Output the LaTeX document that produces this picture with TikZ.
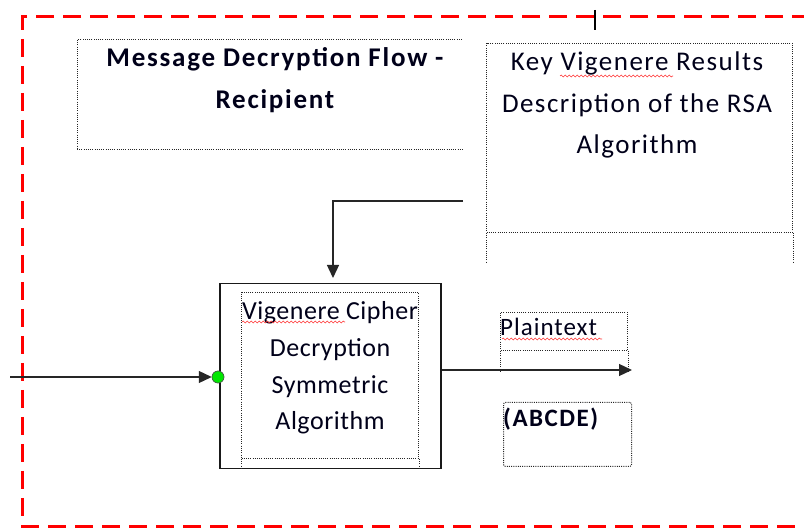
\documentclass[tikz,border=0pt]{standalone}
\usepackage{fontspec}
\setmainfont{Carlito}
\usetikzlibrary{arrows.meta,decorations.pathmorphing}

\begin{document}
\begin{tikzpicture}[x=1pt,y=-1pt,
  dotbox/.style={draw=black!85, line width=1pt, dash pattern=on 1pt off 1.2pt},
  frame/.style={draw=red, line width=3pt, dash pattern=on 18pt off 9pt},
  label/.style={inner sep=0pt, align=center, text=black!90!blue},
  flow/.style={draw=black!85, line width=1.3pt, -{Triangle[length=13pt,width=12pt]}},
  spell/.style={draw=red!80, line width=0.6pt, decorate,
    decoration={snake, segment length=4pt, amplitude=0.9pt}}]
\useasboundingbox (0,0) rectangle (804,529);

% outer red dashed frame (open on the right)
\draw[frame] (810,17) -- (22,17) -- (22,526) -- (810,526);

% text cursor
\draw[line width=1.2pt] (595,10) -- (595,30);

% title box, open on the right
\coordinate (tnw) at (77,40);
\coordinate (tsw) at (77,150);
\coordinate (tne) at (462,40);
\coordinate (tse) at (463,150);
\draw[dotbox] (tne) -- (tnw) -- (tsw) -- (tse);
\node[label, font=\fontsize{27}{42}\selectfont\bfseries\addfontfeature{LetterSpace=6.5}] (title) at (275,80)
  {Message Decryption Flow -\\Recipient};

% key box with its lower band
\node[dotbox, minimum width=306pt, minimum height=189pt, anchor=north west] (key) at (486,43) {};
\draw[dotbox] (key.south west) -- ++(0,30);
\draw[dotbox] (key.south east) -- ++(0,30);
\node[label, font=\fontsize{27}{41.5}\selectfont\addfontfeature{LetterSpace=5.5}] (keytext) at (637,105)
  {Key Vigenere Results\\Description of the RSA\\Algorithm};
\draw[spell] (560,76) -- (673,76);

% Vigenere decryption process
\node[draw=black!90, line width=1.5pt, minimum width=221pt, minimum height=185pt,
  anchor=north west] (proc) at (219,283) {};
\node[dotbox, minimum width=177pt, minimum height=166pt, anchor=north west] (inner) at (241,292) {};
\draw[dotbox] (inner.south west) -- ++(0,10);
\draw[dotbox] (inner.south east) -- ++(0,10);
\node[label, font=\fontsize{26}{36.7}\selectfont\addfontfeature{LetterSpace=2}] (proctext) at (330,368)
  {Vigenere Cipher\\Decryption\\Symmetric\\Algorithm};
\draw[spell] (242,322) -- (345,322);

% key feeds the process from above
\coordinate (keyout) at (463,201);
\draw[flow, shorten >=5pt] (keyout) -| (proc.north -| 333,0);

% ciphertext input with its connection point
\coordinate (inp) at (10,377);
\node[circle, draw=black!70, line width=0.5pt, fill={rgb,255:red,0;green,230;blue,0},
  minimum size=12pt, inner sep=0pt] (port) at (218,377) {};
\draw[flow] (inp) -- (port.west);
\node[circle, draw=black!70, line width=0.5pt, fill={rgb,255:red,0;green,230;blue,0},
  minimum size=12pt, inner sep=0pt] at (port) {};

% plaintext output
\coordinate (outtip) at (632,370);
\draw[flow] (proc.east |- outtip) -- (outtip);
\node[dotbox, minimum width=127pt, minimum height=38pt, anchor=north west] (plain) at (500,312) {};
\draw[dotbox] (plain.south west) -- ++(0,20);
\draw[dotbox] (plain.south east) -- ++(0,20);
\node[label, font=\fontsize{25}{30}\selectfont\addfontfeature{LetterSpace=4}, anchor=west] (plaintext) at (500,327) {Plaintext};
\draw[spell] (502,339) -- (602,339);

\node[dotbox, rounded corners=2pt, minimum width=128pt, minimum height=64pt, anchor=north west] (abc) at (503,402) {};
\node[label, font=\fontsize{25}{30}\selectfont\bfseries\addfontfeature{LetterSpace=6}, anchor=west] (abctext) at (503,419) {(ABCDE)};
\end{tikzpicture}
\end{document}
